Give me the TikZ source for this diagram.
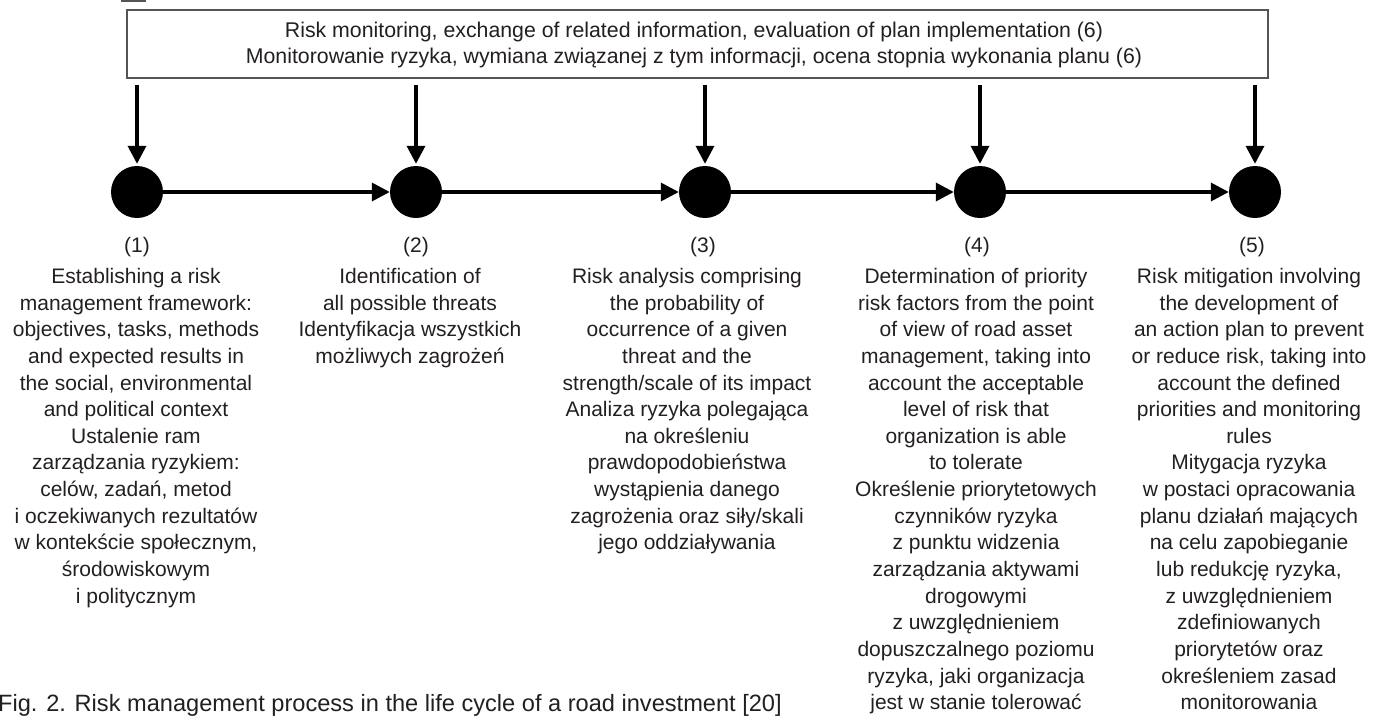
\documentclass[tikz,border=0pt]{standalone}
\usepackage{fontspec}
\setmainfont{Liberation Sans}
\usetikzlibrary{arrows.meta}
\definecolor{ink}{HTML}{231F20}
\definecolor{frame}{HTML}{555555}
\begin{document}
\begin{tikzpicture}[x=1pt,y=-1pt,
  txt/.style={font=\fontsize{21}{26.65}\selectfont, text=ink, align=center, inner sep=0pt},
  boxtxt/.style={font=\fontsize{21.3}{26}\selectfont, text=ink, align=center, inner sep=0pt},
  dot/.style={circle, fill=black, minimum size=52pt, inner sep=0pt},
  arr/.style={line width=3.5pt, -{Triangle[length=18pt,width=18pt]}},
  numlab/.style={font=\fontsize{21}{26}\selectfont, text=ink, inner sep=0pt, anchor=base},
  captxt/.style={font=\fontsize{23.6}{28}\selectfont, text=ink, inner sep=0pt}
]
\useasboundingbox (0,0) rectangle (1381,716);
% cut-off fragment at the top edge
\draw[frame, line width=1.5pt] (121,0.8) -- (146,0.8);
% monitoring box
\node[draw=frame, line width=1.5pt, minimum width=1141pt, minimum height=68pt, inner sep=0pt] (mon) at (697.5,44) {};
\node[boxtxt, anchor=base] (monA) at (694,37) {Risk monitoring, exchange of related information, evaluation of plan implementation (6)};
\node[boxtxt, anchor=base] (monB) at (694,63) {Monitorowanie ryzyka, wymiana związanej z tym informacji, ocena stopnia wykonania planu (6)};
% stages
\node[dot] (c1) at (137,192) {};
\node[dot] (c2) at (416,192) {};
\node[dot] (c3) at (705,192) {};
\node[dot] (c4) at (980,192) {};
\node[dot] (c5) at (1255,192) {};
\foreach \i in {1,...,5}{
  \draw[arr, shorten >=2pt] ([yshift=-6pt]mon.south -| c\i) -- (c\i.north);
}
\draw[arr] (c1.east) -- (c2.west);
\draw[arr] (c2.east) -- (c3.west);
\draw[arr] (c3.east) -- (c4.west);
\draw[arr] (c4.east) -- (c5.west);
% numbers
\node[numlab] (n1) at (137,252) {(1)};
\node[numlab] (n2) at (416,252) {(2)};
\node[numlab] (n3) at (703,252) {(3)};
\node[numlab] (n4) at (977,252) {(4)};
\node[numlab] (n5) at (1252,252) {(5)};
% descriptions
\node[txt, anchor=north] (t1) at (136,268) {Establishing a risk\\ management framework:\\ objectives, tasks, methods\\ and expected results in\\ the social, environmental\\ and political context\\ Ustalenie ram\\ zarządzania ryzykiem:\\ celów, zadań, metod\\ i oczekiwanych rezultatów\\ w kontekście społecznym,\\ środowiskowym\\ i politycznym};
\node[txt, anchor=north] (t2) at (410,268) {Identification of\\ all possible threats\\ Identyfikacja wszystkich\\ możliwych zagrożeń};
\node[txt, anchor=north] (t3) at (687,268) {Risk analysis comprising\\ the probability of\\ occurrence of a given\\ threat and the\\ strength/scale of its impact\\ Analiza ryzyka polegająca\\ na określeniu\\ prawdopodobieństwa\\ wystąpienia danego\\ zagrożenia oraz siły/skali\\ jego oddziaływania};
\node[txt, anchor=north] (t4) at (976,268) {Determination of priority\\ risk factors from the point\\ of view of road asset\\ management, taking into\\ account the acceptable\\ level of risk that\\ organization is able\\ to tolerate\\ Określenie priorytetowych\\ czynników ryzyka\\ z punktu widzenia\\ zarządzania aktywami\\ drogowymi\\ z uwzględnieniem\\ dopuszczalnego poziomu\\ ryzyka, jaki organizacja\\ jest w stanie tolerować};
\node[txt, anchor=north] (t5) at (1249,268) {Risk mitigation involving\\ the development of\\ an action plan to prevent\\ or reduce risk, taking into\\ account the defined\\ priorities and monitoring\\ rules\\ Mitygacja ryzyka\\ w postaci opracowania\\ planu działań mających\\ na celu zapobieganie\\ lub redukcję ryzyka,\\ z uwzględnieniem\\ zdefiniowanych\\ priorytetów oraz\\ określeniem zasad\\ monitorowania};
% caption
\node[captxt, anchor=base west] (cap) at (-2,711) {Fig. 2. Risk management process in the life cycle of a road investment [20]};
\end{tikzpicture}
\end{document}
